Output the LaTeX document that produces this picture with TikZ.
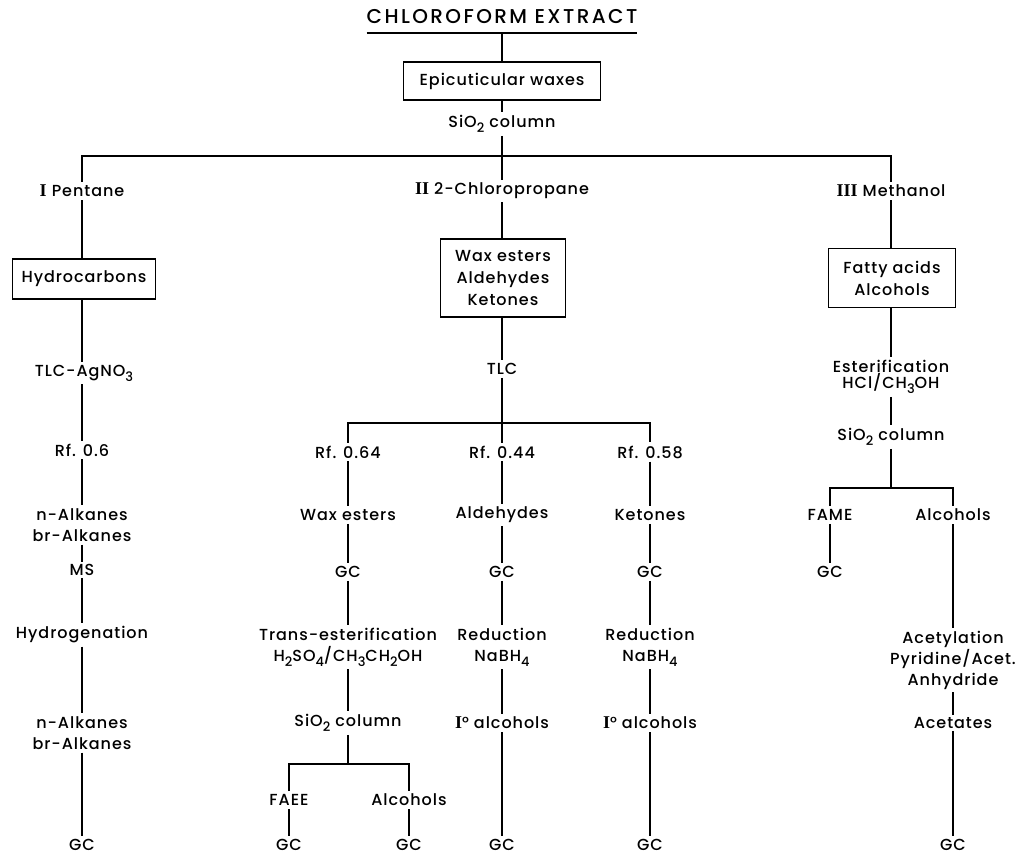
\documentclass[tikz,border=0pt]{standalone}
\usepackage{fontspec}
\setmainfont{Poppins}[UprightFont={* Medium}, BoldFont={* SemiBold}, LetterSpace=6]
\newfontfamily\romfont{Liberation Serif}
\usetikzlibrary{calc}
\newcommand\sbs[1]{\raisebox{-0.55ex}{\fontsize{13}{13}\selectfont #1}}
\newcommand\rn[1]{{\romfont\bfseries\fontsize{18}{18}\selectfont #1}}
\tikzset{
  lbl/.style={inner sep=3pt, align=center, font=\fontsize{16}{21}\selectfont},
  boxn/.style={draw, line width=1.4pt, align=center, inner sep=0pt, font=\fontsize{16}{22}\selectfont},
  ln/.style={line width=1.5pt},
  thn/.style={line width=1.1pt}
}
\begin{document}
\begin{tikzpicture}[x=1pt,y=-1pt]
\useasboundingbox (0,0) rectangle (1018,857);
% top
\node[lbl, font=\fontsize{20}{22}\selectfont\addfontfeatures{LetterSpace=12}, inner sep=0pt] (title) at (502,17) {CHLOROFORM EXTRACT};
\coordinate (ul) at (502,33);
\draw[line width=1.8pt] (title.south west |- ul) -- (title.south east |- ul);
\node[boxn, minimum width=197pt, minimum height=38pt] (epi) at (502,81) {Epicuticular waxes};
\node[lbl] (si1) at (502,124) {SiO\sbs{2} column};
\coordinate (hub1) at (502,156);
\draw[ln] (ul) -- (epi);
\draw[ln] (epi) -- (si1);
% main branches
\node[lbl] (pent) at (82,191) {\rn{I} Pentane};
\node[lbl] (chloro) at (502,191) {\rn{II} 2-Chloropropane};
\node[lbl] (meth) at (891,191) {\rn{III} Methanol};
\draw[ln] (si1) -- (chloro);
\draw[ln] (pent) -- (pent |- hub1) -- (meth |- hub1) -- (meth);
% column A
\node[boxn, minimum width=143pt, minimum height=40pt] (hyd) at (84,279) {Hydrocarbons};
\node[lbl] (tlcag) at (84,373) {TLC-AgNO\sbs{3}};
\node[lbl] (rf06) at (82,450) {Rf. 0.6};
\node[lbl] (alk1) at (82,525) {n-Alkanes\\br-Alkanes};
\node[lbl, inner sep=2pt] (ms) at (82,570) {MS};
\node[lbl] (hydro) at (82,635) {Hydrogenation};
\node[lbl] (alk2) at (82,733) {n-Alkanes\\br-Alkanes};
\node[lbl] (gcA) at (82,845) {GC};
\draw[ln] (pent) -- (pent |- hyd.north);
\draw[ln] (hyd.south -| pent) -- (tlcag.north -| pent);
\draw[ln] (tlcag.south -| pent) -- (rf06);
\draw[thn] (rf06) -- (alk1);
\draw[thn] (alk1) -- (ms);
\draw[thn] (ms) -- (hydro);
\draw[ln] (hydro) -- (alk2);
\draw[thn] (alk2) -- (gcA);
% column B
\node[boxn, minimum width=125pt, minimum height=78pt] (wbox) at (503,278) {Wax esters\\Aldehydes\\Ketones};
\node[lbl] (tlc) at (502,369) {TLC};
\coordinate (hub2) at (502,423);
\draw[ln] (chloro) -- (chloro |- wbox.north);
\draw[ln] (wbox.south -| tlc) -- (tlc);
\node[lbl] (rf064) at (348,452) {Rf. 0.64};
\node[lbl] (rf044) at (502,452) {Rf. 0.44};
\node[lbl] (rf058) at (650,452) {Rf. 0.58};
\draw[ln] (tlc) -- (rf044);
\draw[ln] (rf064) -- (rf064 |- hub2) -- (rf058 |- hub2) -- (rf058);
\node[lbl] (wax) at (348,515) {Wax esters};
\node[lbl] (ald) at (502,515) {Aldehydes};
\node[lbl] (ket) at (650,515) {Ketones};
\node[lbl] (gcB1) at (348,572) {GC};
\node[lbl] (gcB2) at (502,572) {GC};
\node[lbl] (gcB3) at (650,572) {GC};
\node[lbl] (trans) at (348,647) {Trans-esterification\\H\sbs{2}SO\sbs{4}/CH\sbs{3}CH\sbs{2}OH};
\node[lbl] (red1) at (502,647) {Reduction\\NaBH\sbs{4}};
\node[lbl] (red2) at (650,647) {Reduction\\NaBH\sbs{4}};
\node[lbl] (si2) at (348,723) {SiO\sbs{2} column};
\node[lbl] (alc1) at (502,723) {\rn{I}° alcohols};
\node[lbl] (alc2) at (650,723) {\rn{I}° alcohols};
\coordinate (hub3) at (348,764);
\node[lbl] (faee) at (289,800) {FAEE};
\node[lbl] (alcs) at (409,800) {Alcohols};
\node[lbl] (gcB4) at (289,845) {GC};
\node[lbl] (gcB5) at (409,845) {GC};
\node[lbl] (gcB6) at (502,845) {GC};
\node[lbl] (gcB7) at (650,845) {GC};
\draw[thn] (rf064) -- (wax);
\draw[thn] (rf044) -- (ald);
\draw[ln] (rf058) -- (ket);
\draw[thn] (wax) -- (gcB1);
\draw[thn] (ald) -- (gcB2);
\draw[ln] (ket) -- (gcB3);
\draw[thn] (gcB1) -- (trans);
\draw[thn] (gcB2) -- (red1);
\draw[ln] (gcB3) -- (red2);
\draw[thn] (trans) -- (si2);
\draw[thn] (red1) -- (alc1);
\draw[ln] (red2) -- (alc2);
\draw[thn] (si2) -- (hub3);
\draw[ln] (faee) -- (faee |- hub3) -- (alcs |- hub3) -- (alcs);
\draw[ln] (faee) -- (gcB4);
\draw[ln] (alcs) -- (gcB5);
\draw[thn] (alc1) -- (gcB6);
\draw[ln] (alc2) -- (gcB7);
% column C
\node[boxn, minimum width=127pt, minimum height=59pt] (fbox) at (892,278) {Fatty acids\\Alcohols};
\node[lbl, font=\fontsize{16}{16}\selectfont] (ester) at (891,377) {Esterification\\HCl/CH\sbs{3}OH};
\node[lbl] (si3) at (891,437) {SiO\sbs{2} column};
\coordinate (hub4) at (891,488);
\node[lbl] (fame) at (830,515) {FAME};
\node[lbl] (alcC) at (953,515) {Alcohols};
\node[lbl] (gcC1) at (830,572) {GC};
\node[lbl] (acet) at (953,660) {Acetylation\\Pyridine/Acet.\\Anhydride};
\node[lbl, inner sep=2pt] (acets) at (953,723) {Acetates};
\node[lbl] (gcC2) at (953,845) {GC};
\draw[ln] (meth) -- (meth |- fbox.north);
\draw[ln] (fbox.south -| ester) -- (ester);
\draw[thn] (ester) -- (si3);
\draw[thn] (si3) -- (hub4);
\draw[ln] (fame) -- (fame |- hub4) -- (alcC |- hub4) -- (alcC);
\draw[thn] (fame) -- (gcC1);
\draw[ln] (alcC) -- (acet);
\draw[thn] (acet) -- (acets);
\draw[thn] (acets) -- (gcC2);
\end{tikzpicture}
\end{document}
